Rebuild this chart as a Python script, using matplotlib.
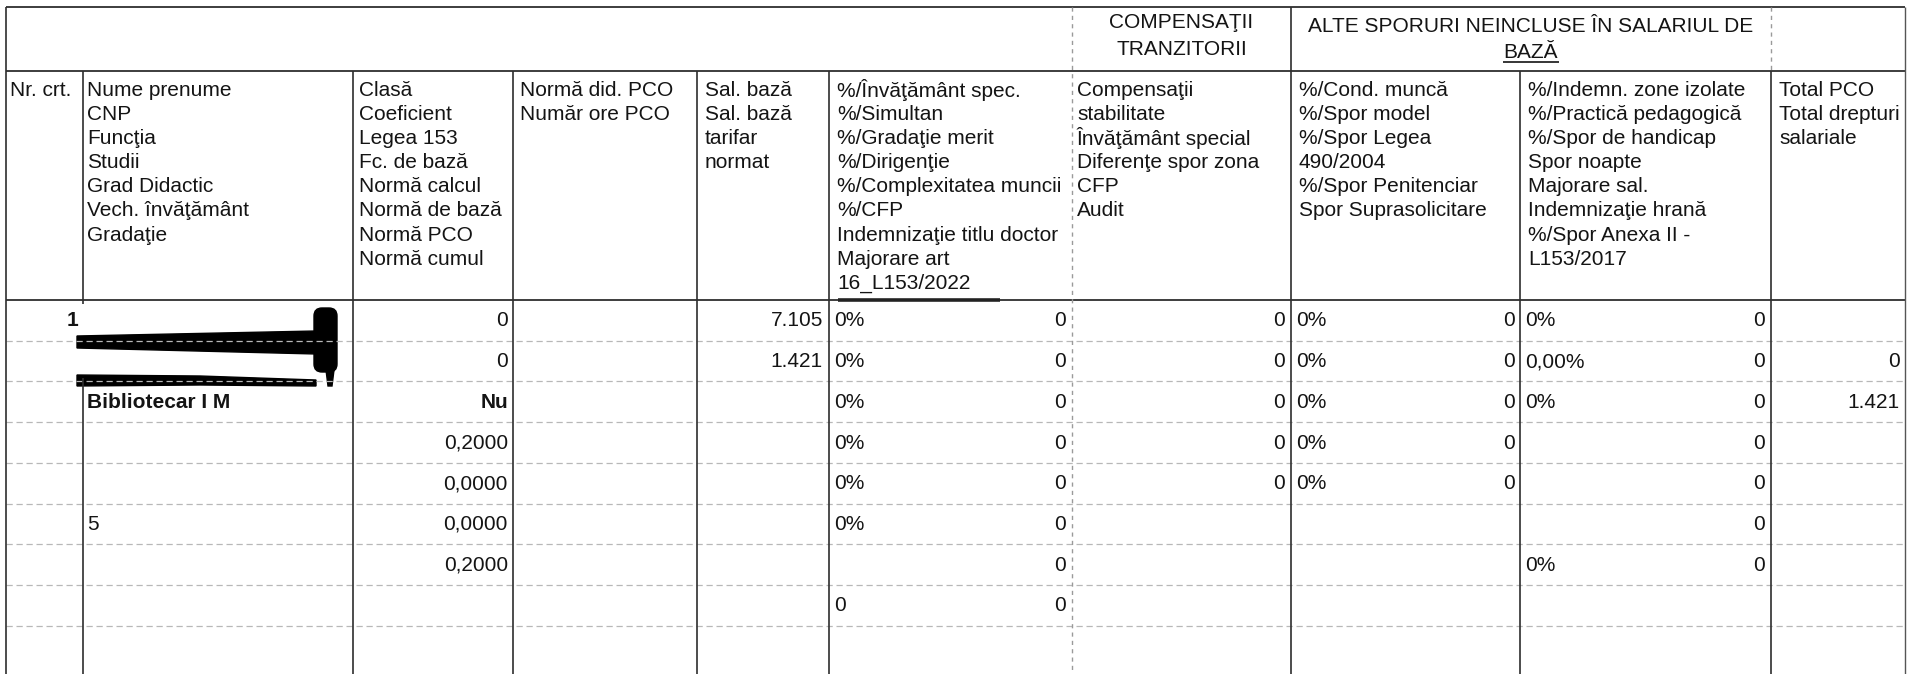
import matplotlib.pyplot as plt
from matplotlib.patches import Polygon, FancyBboxPatch

# --- table content ---
group_titles = ["COMPENSAŢII\nTRANZITORII", "ALTE SPORURI NEINCLUSE ÎN SALARIUL DE", "BAZĂ"]

col_headers = [
    ["Nr. crt."],
    ["Nume prenume", "CNP", "Funcţia", "Studii", "Grad Didactic", "Vech. învăţământ", "Gradaţie"],
    ["Clasă", "Coeficient", "Legea 153", "Fc. de bază", "Normă calcul", "Normă de bază", "Normă PCO", "Normă cumul"],
    ["Normă did. PCO", "Număr ore PCO"],
    ["Sal. bază", "Sal. bază", "tarifar", "normat"],
    ["%/Învăţământ spec.", "%/Simultan", "%/Gradaţie merit", "%/Dirigenţie", "%/Complexitatea muncii",
     "%/CFP", "Indemnizaţie titlu doctor", "Majorare art", "16_L153/2022"],
    ["Compensaţii", "stabilitate", "Învăţământ special", "Diferenţe spor zona", "CFP", "Audit"],
    ["%/Cond. muncă", "%/Spor model", "%/Spor Legea", "490/2004", "%/Spor Penitenciar", "Spor Suprasolicitare"],
    ["%/Indemn. zone izolate", "%/Practică pedagogică", "%/Spor de handicap", "Spor noapte", "Majorare sal.",
     "Indemnizaţie hrană", "%/Spor Anexa II -", "L153/2017"],
    ["Total PCO", "Total drepturi", "salariale"],
]

nr_crt = ["1", "", "", "", "", "", "", ""]
nume = ["", "", "Bibliotecar I M", "", "", "5", "", ""]
clasa = ["0", "0", "Nu", "0,2000", "0,0000", "0,0000", "0,2000", ""]
sal_baza = ["7.105", "1.421", "", "", "", "", "", ""]
inv_pct = ["0%", "0%", "0%", "0%", "0%", "0%", "", "0"]
inv_val = ["0", "0", "0", "0", "0", "0", "0", "0"]
comp_val = ["0", "0", "0", "0", "0", "", "", ""]
cond_pct = ["0%", "0%", "0%", "0%", "0%", "", "", ""]
cond_val = ["0", "0", "0", "0", "0", "", "", ""]
indemn_pct = ["0%", "0,00%", "0%", "", "", "", "0%", ""]
indemn_val = ["0", "0", "0", "0", "0", "0", "0", ""]
total = ["", "0", "1.421", "", "", "", "", ""]

# --- geometry (pixels) ---
W, H = 1908, 674
vx = [6, 83, 353, 513, 697, 829, 1072, 1291, 1520, 1771, 1905]
y_top, y_head, y_cols = 7, 71, 300
row_y0, row_h = 321, 40.7
n_rows = 8
line_gap = 24.2
FS = 15
INK = "#141414"

plt.rcParams['font.family'] = ['Liberation Sans', 'DejaVu Sans']

fig = plt.figure(figsize=(W / 100, H / 100), dpi=100)
ax = fig.add_axes([0, 0, 1, 1])
ax.set_xlim(0, W)
ax.set_ylim(H, 0)
ax.axis('off')

# horizontal rules
for y in (y_top, y_head, y_cols):
    ax.hlines(y, vx[0], vx[-1], color="#2e2e2e", lw=1.3)
ax.hlines(y_cols, 838, 1000, color="#222222", lw=2.6)
for i in range(n_rows):
    yl = y_cols + row_h * (i + 1)
    ax.hlines(yl, vx[0], vx[-1], color="#b8b8b8", lw=0.9, linestyles=(0, (5, 3)))

# vertical rules
ax.vlines(vx[0], y_top, H, color="#2e2e2e", lw=1.2)
ax.vlines(vx[1], y_head, 304, color="#2e2e2e", lw=1.2)
ax.vlines(vx[1], 378, H, color="#2e2e2e", lw=1.2)
for x in vx[2:6] + [vx[8]]:
    ax.vlines(x, y_head, H, color="#2e2e2e", lw=1.2)
ax.vlines(vx[6], y_top, H, color="#9a9a9a", lw=1.0, linestyles=(0, (3, 3)))
ax.vlines(vx[7], y_top, H, color="#2e2e2e", lw=1.2)
ax.vlines(vx[9], y_top, y_head, color="#9a9a9a", lw=1.0, linestyles=(0, (3, 3)))
ax.vlines(vx[9], y_head, H, color="#2e2e2e", lw=1.2)
ax.vlines(vx[10], y_top, H, color="#555555", lw=1.0)

# group titles
ax.text((vx[6] + vx[7]) / 2, 36, group_titles[0], ha='center', va='center',
        fontsize=FS, color=INK, linespacing=1.5)
ax.text((vx[7] + vx[9]) / 2, 27, group_titles[1], ha='center', va='center', fontsize=FS, color=INK)
ax.text((vx[7] + vx[9]) / 2, 53, group_titles[2], ha='center', va='center', fontsize=FS, color=INK)
ax.hlines(62, (vx[7] + vx[9]) / 2 - 28, (vx[7] + vx[9]) / 2 + 28, color=INK, lw=1.2)

# column headers
head_x = [10, 87, 359, 520, 705, 837, 1077, 1299, 1528, 1779]
for hx, lines in zip(head_x, col_headers):
    for k, s in enumerate(lines):
        ax.text(hx, 90 + k * line_gap, s, ha='left', va='center', fontsize=FS, color=INK)

# data cells
def put(values, x, ha, bold=()):
    for i, s in enumerate(values):
        if s:
            ax.text(x, row_y0 + i * row_h, s, ha=ha, va='center', fontsize=FS, color=INK,
                    fontweight='bold' if s in bold else 'normal')

put(nr_crt, 78, 'right', bold=("1",))
put(nume, 87, 'left', bold=("Bibliotecar I M",))
put(clasa, 508, 'right', bold=("Nu",))
put(sal_baza, 823, 'right')
put(inv_pct, 834, 'left')
put(inv_val, 1066, 'right')
put(comp_val, 1285, 'right')
put(cond_pct, 1296, 'left')
put(cond_val, 1515, 'right')
put(indemn_pct, 1525, 'left')
put(indemn_val, 1765, 'right')
put(total, 1900, 'right')

# redaction marks over the name / CNP
ax.add_patch(Polygon([(77, 336), (316, 331), (316, 354), (77, 348)], closed=True, color="black"))
ax.add_patch(Polygon([(77, 375), (200, 376), (316, 380), (316, 386), (200, 385), (77, 386)],
                     closed=True, color="black"))
ax.add_patch(FancyBboxPatch((316, 310), 19, 60, boxstyle="round,pad=2,rounding_size=8", color="black"))
ax.add_patch(Polygon([(326, 370), (334, 370), (332, 386), (328, 386)], closed=True, color="black"))

fig.savefig("out.png", dpi=100)
